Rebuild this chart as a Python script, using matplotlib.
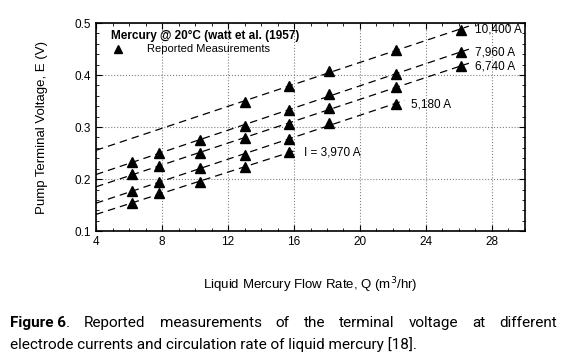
import numpy as np
import matplotlib.pyplot as plt
from matplotlib import font_manager
from matplotlib.ticker import MultipleLocator

# reported measurements (Q in m3/hr, E in V), one list per electrode current
q_10400 = [13.0, 15.7, 18.1, 22.2, 26.1]
e_10400 = [0.348, 0.379, 0.408, 0.448, 0.487]

q_7960 = [6.2, 7.8, 10.3, 13.0, 15.7, 18.1, 22.2, 26.1]
e_7960 = [0.233, 0.250, 0.275, 0.302, 0.333, 0.363, 0.402, 0.444]

q_6740 = [6.2, 7.8, 10.3, 13.0, 15.7, 18.1, 22.2, 26.1]
e_6740 = [0.210, 0.225, 0.250, 0.279, 0.306, 0.336, 0.377, 0.417]

q_5180 = [6.2, 7.8, 10.3, 13.0, 15.7, 18.1, 22.2]
e_5180 = [0.177, 0.194, 0.221, 0.246, 0.277, 0.307, 0.344]

q_3970 = [6.2, 7.8, 10.3, 13.0, 15.7]
e_3970 = [0.154, 0.173, 0.194, 0.223, 0.252]

series = [
    (q_10400, e_10400, "10,400 A"),
    (q_7960, e_7960, "7,960 A"),
    (q_6740, e_6740, "6,740 A"),
    (q_5180, e_5180, "5,180 A"),
    (q_3970, e_3970, "I = 3,970 A"),
]

installed = set(f.name for f in font_manager.fontManager.ttflist)
plt.rcParams['font.family'] = ['Liberation Sans', 'DejaVu Sans']
cap_font = 'Liberation Sans Narrow' if 'Liberation Sans Narrow' in installed else 'Roboto'

fig = plt.figure(figsize=(5.75, 3.6), dpi=100)
ax = fig.add_axes([0.167, 0.358, 0.746, 0.578])

for q, e, lab in series:
    q = np.array(q)
    e = np.array(e)
    k, b = np.polyfit(q, e, 1)
    xs = np.array([4, q.max() + 0.5])
    ax.plot(xs, k * xs + b, color='black', lw=0.9, dashes=(6, 4))
    ax.plot(q, e, '^', color='black', ms=7)
    ax.text(q[-1] + 0.9, e[-1], lab, fontsize=8.5, va='center', ha='left')

ax.set_xlim(4, 30)
ax.set_ylim(0.1, 0.5)
ax.xaxis.set_major_locator(MultipleLocator(4))
ax.xaxis.set_minor_locator(MultipleLocator(1))
ax.yaxis.set_major_locator(MultipleLocator(0.1))
ax.yaxis.set_minor_locator(MultipleLocator(0.02))
ax.tick_params(which='both', direction='in', top=True, right=True, labelsize=8.5)
ax.tick_params(which='major', length=4)
ax.tick_params(which='minor', length=2)
ax.grid(True, which='major', ls=':', color='gray', lw=0.8)
for s in ax.spines.values():
    s.set_linewidth(1.2)

ax.set_ylabel("Pump Terminal Voltage, E (V)", fontsize=9.5, labelpad=19)
ax.set_xlabel("Liquid Mercury Flow Rate, Q (m$^3$/hr)", fontsize=9.5, labelpad=20)

# legend box text
ax.text(0.035, 0.94, "Mercury @ 20\u00b0C (watt et al. (1957)", transform=ax.transAxes,
        fontsize=8.5, fontweight='bold', va='center')
ax.plot([0.052], [0.875], '^', color='black', ms=6, transform=ax.transAxes)
ax.text(0.12, 0.875, "Reported Measurements", transform=ax.transAxes, fontsize=8, va='center')

# justified caption
line1 = "Reported measurements of the terminal voltage at different".split()
line2 = "electrode currents and circulation rate of liquid mercury [18]."
x0, x1 = 10 / 575, 557 / 575
y1, y2 = 1 - 323 / 360, 1 - 345 / 360
fig.canvas.draw()
r = fig.canvas.get_renderer()
words = [fig.text(x0, y1, "Figure 6", family=cap_font, fontsize=11, fontweight='bold', va='center')]
dot = fig.text(x0, y1, ".", family=cap_font, fontsize=11, va='center')
words += [fig.text(x0, y1, w, family=cap_font, fontsize=11, va='center') for w in line1]
fig.canvas.draw()
widths = [t.get_window_extent(r).width / fig.bbox.width for t in words]
dw = dot.get_window_extent(r).width / fig.bbox.width
widths[0] += dw
gap = (x1 - x0 - sum(widths)) / (len(words) - 1)
x = x0
for i, t in enumerate(words):
    t.set_x(x)
    if i == 0:
        dot.set_x(x + widths[0] - dw)
    x += widths[i] + gap
fig.text(x0, y2, line2, family=cap_font, fontsize=11, va='center')

fig.savefig("out.png", dpi=100)
